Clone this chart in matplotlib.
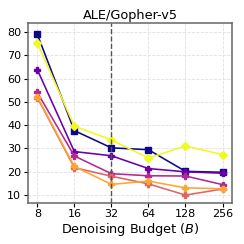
import matplotlib
matplotlib.use('Agg')
import matplotlib.pyplot as plt

# Denoising budgets and scores per series (plasma order)
budgets = [8, 16, 32, 64, 128, 256]
s_navy = [79.0, 37.6, 30.2, 29.4, 20.1, 19.7]
s_purple = [63.8, 28.6, 26.8, 21.3, 19.9, 19.3]
s_magenta = [54.0, 26.7, 19.1, 18.2, 18.1, 14.4]
s_salmon = [51.8, 21.7, 18.0, 14.7, 9.9, 12.5]
s_orange = [52.2, 22.2, 14.5, 15.9, 13.0, 12.6]
s_yellow = [75.2, 39.5, 33.6, 25.8, 31.0, 27.3]

series = [s_navy, s_purple, s_magenta, s_salmon, s_orange, s_yellow]
colors = ['#0d0887', '#6a00a8', '#b12a90', '#e16462', '#fca636', '#f0f921']
markers = ['s', 'P', 'P', 'P', 'P', 'D']

fig, ax = plt.subplots(figsize=(2.44, 2.44), dpi=100)
for vals, c, m in zip(series, colors, markers):
    ax.plot(budgets, vals, color=c, marker=m, markersize=4.3, linewidth=1.15)

ax.axvline(32, color='#555555', linestyle='--', linewidth=1.0)
ax.set_xscale('log', base=2)
ax.set_xticks(budgets)
ax.set_xticklabels([str(b) for b in budgets])
ax.minorticks_off()
ax.set_ylim(6.7, 84)
ax.set_yticks([10, 20, 30, 40, 50, 60, 70, 80])
ax.grid(True, linestyle='--', color='#e0e0e0', linewidth=0.6)
for sp in ax.spines.values():
    sp.set_color('#666666')
    sp.set_linewidth(1.1)
ax.tick_params(labelsize=8, length=3, pad=2)
ax.set_title('ALE/Gopher-v5', fontsize=9.3, pad=3)
ax.set_xlabel('Denoising Budget ($B$)', fontsize=9.3, labelpad=1)
plt.subplots_adjust(left=0.115, right=0.95, top=0.907, bottom=0.17)
plt.savefig('out.png', dpi=100)
